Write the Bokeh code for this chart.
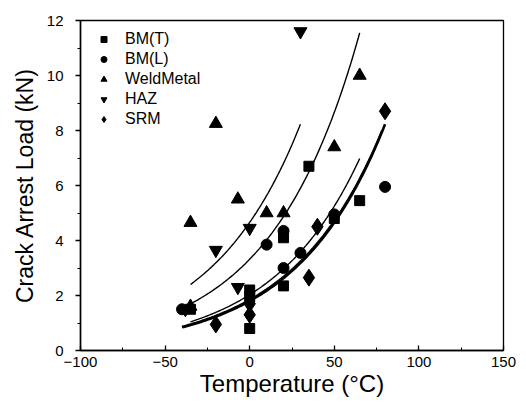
import numpy as np
from bokeh.plotting import figure
from bokeh.models import Legend, LegendItem, Range1d, SingleIntervalTicker
from bokeh.embed import file_html
from bokeh.resources import INLINE

# ---- data ----
bmt_x = [-35, 0, 0, 0, 20, 20, 35, 50, 65]
bmt_y = [1.5, 0.8, 1.95, 2.2, 2.35, 4.1, 6.7, 4.8, 5.45]
bml_x = [-40, 10, 20, 20, 30, 50, 80]
bml_y = [1.5, 3.85, 3.0, 4.35, 3.55, 4.95, 5.95]
weld_x = [-35, -35, -20, -7, 10, 20, 50, 65]
weld_y = [4.65, 1.6, 8.25, 5.5, 5.0, 5.0, 7.4, 10.0]
haz_x = [-38, -20, -7, 0, 30]
haz_y = [1.5, 3.65, 2.3, 4.45, 11.6]
srm_x = [-20, 0, 0, 35, 40, 80]
srm_y = [0.95, 1.3, 1.7, 2.65, 4.5, 8.7]

# exponential fit curves y = a*exp(b*x), drawn over [x0, x1]
fit_a = [4.66, 3.32, 1.80, 2.03, 1.86]
fit_b = [0.01896, 0.01918, 0.0190, 0.0190, 0.0187]
fit_x0 = [-35, -36, -40, -35, -40]
fit_x1 = [30, 65, 80, 65, 78]
fit_width = [1.4, 1.4, 2.6, 1.4, 1.4]

FONT = "Liberation Sans"

p = figure(width=518, height=399, output_backend="svg", toolbar_location=None,
           x_range=Range1d(-100, 150), y_range=Range1d(0, 12),
           min_border_left=80, min_border_right=15, min_border_top=20,
           min_border_bottom=46)
p.background_fill_color = "white"
p.border_fill_color = "white"
p.outline_line_color = "black"
p.outline_line_width = 1.3
p.grid.visible = False

for a, b, x0, x1, w in zip(fit_a, fit_b, fit_x0, fit_x1, fit_width):
    xs = np.linspace(x0, x1, 120)
    p.line(xs, a * np.exp(b * xs), line_color="black", line_width=w)

r1 = p.scatter(bmt_x, bmt_y, marker="square", size=10, color="black")
r2 = p.scatter(bml_x, bml_y, marker="circle", size=11, color="black")
r3 = p.scatter(weld_x, weld_y, marker="triangle", size=13, color="black")
r4 = p.scatter(haz_x, haz_y, marker="inverted_triangle", size=13, color="black")
r5 = p.scatter(srm_x, srm_y, marker="diamond", size=17, color="black")

legend = Legend(items=[LegendItem(label="BM(T)", renderers=[r1]),
                       LegendItem(label="BM(L)", renderers=[r2]),
                       LegendItem(label="WeldMetal", renderers=[r3]),
                       LegendItem(label="HAZ", renderers=[r4]),
                       LegendItem(label="SRM", renderers=[r5])],
                location=(16, 222))
legend.border_line_color = None
legend.background_fill_alpha = 0
legend.padding = 0
legend.margin = 0
legend.glyph_width = 15
legend.glyph_height = 18
legend.label_height = 18
legend.spacing = 2
legend.label_standoff = 14
legend.label_text_font = FONT
legend.label_text_font_size = "16px"
legend.label_text_color = "black"
p.add_layout(legend)

p.xaxis.ticker = SingleIntervalTicker(interval=50, num_minor_ticks=2)
p.yaxis.ticker = SingleIntervalTicker(interval=2, num_minor_ticks=2)
for ax in (p.xaxis, p.yaxis):
    ax.axis_line_color = "black"
    ax.axis_line_width = 1.5
    ax.major_tick_line_color = "black"
    ax.minor_tick_line_color = "black"
    ax.major_tick_line_width = 1.3
    ax.minor_tick_line_width = 1.0
    ax.major_label_text_font = FONT
    ax.major_label_text_font_size = "15px"
    ax.major_label_text_color = "black"
    ax.axis_label_text_font = FONT
    ax.axis_label_text_font_style = "normal"
    ax.axis_label_text_color = "black"

p.yaxis.major_tick_out = 5
p.yaxis.major_tick_in = 0
p.yaxis.minor_tick_out = 3
p.yaxis.minor_tick_in = 0
p.xaxis.major_tick_out = 0
p.xaxis.major_tick_in = 5
p.xaxis.minor_tick_out = 0
p.xaxis.minor_tick_in = 3

p.xaxis.axis_label = "Temperature (°C)"
p.xaxis.axis_label_text_font_size = "24px"
p.xaxis.major_label_standoff = 6
p.xaxis.axis_label_standoff = 0
p.yaxis.axis_label = "Crack Arrest Load (kN)"
p.yaxis.axis_label_text_font_size = "23px"
p.yaxis.major_label_standoff = 12
p.yaxis.axis_label_standoff = 6

open("out.html", "w").write(file_html(p, INLINE))
